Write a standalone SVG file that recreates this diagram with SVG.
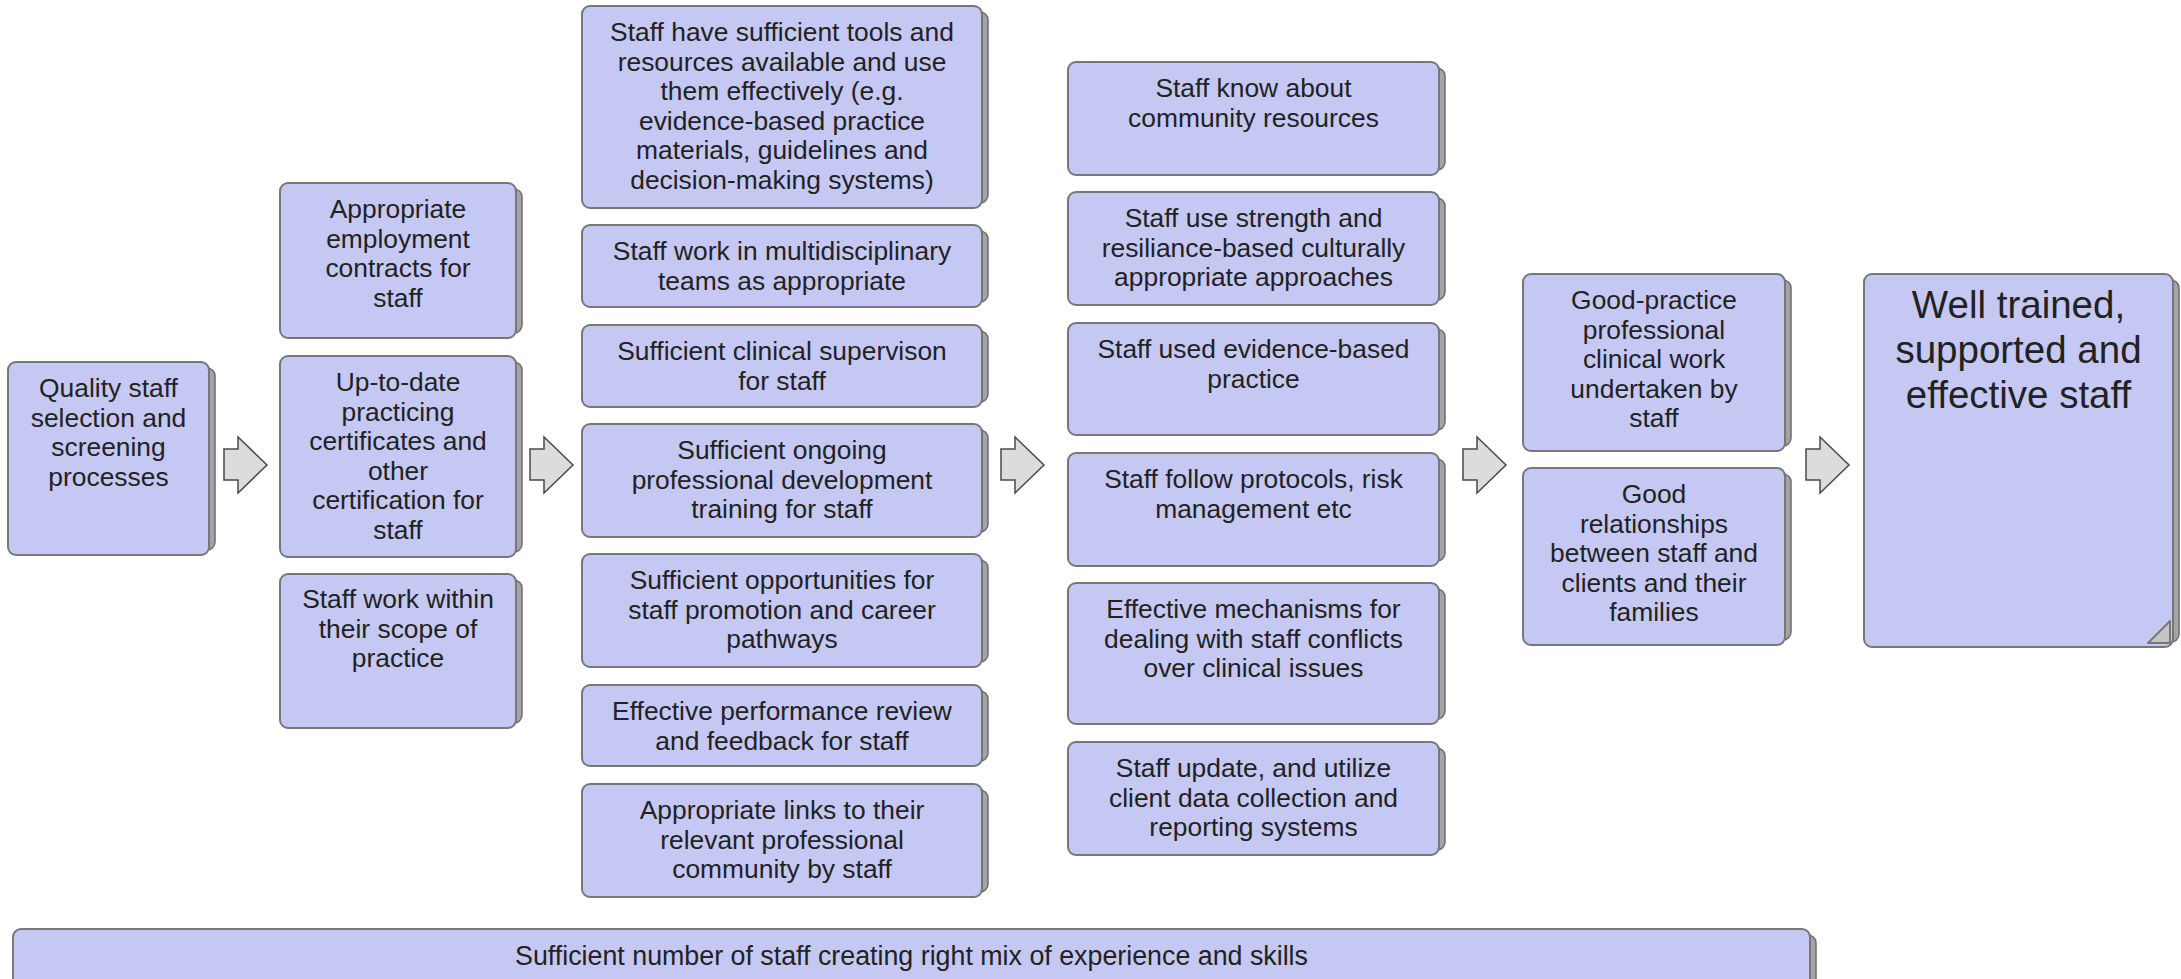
<svg xmlns="http://www.w3.org/2000/svg" xmlns:xlink="http://www.w3.org/1999/xlink" width="2181" height="979" viewBox="0 0 2181 979">
<style>
.bx{fill:#c5c8f3;stroke:#777;stroke-width:2}
.sh{fill:#a3a3a8;stroke:#6e6e6e;stroke-width:1.5}
.t{font-family:"Liberation Sans",Arial,sans-serif;font-size:26.4px;fill:#222;text-anchor:middle}
.tb{font-family:"Liberation Sans",Arial,sans-serif;font-size:38.5px;fill:#222;text-anchor:middle}
.ar{fill:#dcdcdc;stroke:#4a4a4a;stroke-width:1.5}
</style>
<defs>
<path id="arrow" d="M0,12 L14,12 L14,0 L43,28 L14,56 L14,43 L0,43 Z"/>
</defs>
<rect width="2181" height="979" fill="#fff"/>

<g id="n1"><rect class="sh" x="14" y="368" width="201" height="182" rx="8"/><rect class="bx" x="8" y="362" width="201" height="193" rx="8"/>
<text class="t" x="108.5" y="397"><tspan x="108.5">Quality staff</tspan><tspan x="108.5" dy="29.5">selection and</tspan><tspan x="108.5" dy="29.5">screening</tspan><tspan x="108.5" dy="29.5">processes</tspan></text></g>

<g id="n2"><rect class="sh" x="286" y="189" width="236" height="144" rx="8"/><rect class="bx" x="280" y="183" width="236" height="155" rx="8"/>
<text class="t" x="398" y="218"><tspan x="398">Appropriate</tspan><tspan x="398" dy="29.5">employment</tspan><tspan x="398" dy="29.5">contracts for</tspan><tspan x="398" dy="29.5">staff</tspan></text></g>

<g id="n3"><rect class="sh" x="286" y="362" width="236" height="190" rx="8"/><rect class="bx" x="280" y="356" width="236" height="201" rx="8"/>
<text class="t" x="398" y="391"><tspan x="398">Up-to-date</tspan><tspan x="398" dy="29.5">practicing</tspan><tspan x="398" dy="29.5">certificates and</tspan><tspan x="398" dy="29.5">other</tspan><tspan x="398" dy="29.5">certification for</tspan><tspan x="398" dy="29.5">staff</tspan></text></g>

<g id="n4"><rect class="sh" x="286" y="580" width="236" height="143" rx="8"/><rect class="bx" x="280" y="574" width="236" height="154" rx="8"/>
<text class="t" x="398" y="608"><tspan x="398">Staff work within</tspan><tspan x="398" dy="29.5">their scope of</tspan><tspan x="398" dy="29.5">practice</tspan></text></g>

<g id="n5"><rect class="sh" x="588" y="12" width="400" height="191" rx="8"/><rect class="bx" x="582" y="6" width="400" height="202" rx="8"/>
<text class="t" x="782" y="41"><tspan x="782">Staff have sufficient tools and</tspan><tspan x="782" dy="29.5">resources available and use</tspan><tspan x="782" dy="29.5">them effectively (e.g.</tspan><tspan x="782" dy="29.5">evidence-based practice</tspan><tspan x="782" dy="29.5">materials, guidelines and</tspan><tspan x="782" dy="29.5">decision-making systems)</tspan></text></g>

<g id="n6"><rect class="sh" x="588" y="231" width="400" height="71" rx="8"/><rect class="bx" x="582" y="225" width="400" height="82" rx="8"/>
<text class="t" x="782" y="260"><tspan x="782">Staff work in multidisciplinary</tspan><tspan x="782" dy="29.5">teams as appropriate</tspan></text></g>

<g id="n7"><rect class="sh" x="588" y="331" width="400" height="71" rx="8"/><rect class="bx" x="582" y="325" width="400" height="82" rx="8"/>
<text class="t" x="782" y="360"><tspan x="782">Sufficient clinical supervison</tspan><tspan x="782" dy="29.5">for staff</tspan></text></g>

<g id="n8"><rect class="sh" x="588" y="430" width="400" height="102" rx="8"/><rect class="bx" x="582" y="424" width="400" height="113" rx="8"/>
<text class="t" x="782" y="459"><tspan x="782">Sufficient ongoing</tspan><tspan x="782" dy="29.5">professional development</tspan><tspan x="782" dy="29.5">training for staff</tspan></text></g>

<g id="n9"><rect class="sh" x="588" y="560" width="400" height="102" rx="8"/><rect class="bx" x="582" y="554" width="400" height="113" rx="8"/>
<text class="t" x="782" y="589"><tspan x="782">Sufficient opportunities for</tspan><tspan x="782" dy="29.5">staff promotion and career</tspan><tspan x="782" dy="29.5">pathways</tspan></text></g>

<g id="n10"><rect class="sh" x="588" y="691" width="400" height="70" rx="8"/><rect class="bx" x="582" y="685" width="400" height="81" rx="8"/>
<text class="t" x="782" y="720"><tspan x="782">Effective performance review</tspan><tspan x="782" dy="29.5">and feedback for staff</tspan></text></g>

<g id="n11"><rect class="sh" x="588" y="790" width="400" height="102" rx="8"/><rect class="bx" x="582" y="784" width="400" height="113" rx="8"/>
<text class="t" x="782" y="819"><tspan x="782">Appropriate links to their</tspan><tspan x="782" dy="29.5">relevant professional</tspan><tspan x="782" dy="29.5">community by staff</tspan></text></g>

<g id="n12"><rect class="sh" x="1074" y="68" width="371" height="102" rx="8"/><rect class="bx" x="1068" y="62" width="371" height="113" rx="8"/>
<text class="t" x="1253.5" y="97"><tspan x="1253.5">Staff know about</tspan><tspan x="1253.5" dy="29.5">community resources</tspan></text></g>

<g id="n13"><rect class="sh" x="1074" y="198" width="371" height="102" rx="8"/><rect class="bx" x="1068" y="192" width="371" height="113" rx="8"/>
<text class="t" x="1253.5" y="227"><tspan x="1253.5">Staff use strength and</tspan><tspan x="1253.5" dy="29.5">resiliance-based culturally</tspan><tspan x="1253.5" dy="29.5">appropriate approaches</tspan></text></g>

<g id="n14"><rect class="sh" x="1074" y="329" width="371" height="101" rx="8"/><rect class="bx" x="1068" y="323" width="371" height="112" rx="8"/>
<text class="t" x="1253.5" y="358"><tspan x="1253.5">Staff used evidence-based</tspan><tspan x="1253.5" dy="29.5">practice</tspan></text></g>

<g id="n15"><rect class="sh" x="1074" y="459" width="371" height="102" rx="8"/><rect class="bx" x="1068" y="453" width="371" height="113" rx="8"/>
<text class="t" x="1253.5" y="488"><tspan x="1253.5">Staff follow protocols, risk</tspan><tspan x="1253.5" dy="29.5">management etc</tspan></text></g>

<g id="n16"><rect class="sh" x="1074" y="589" width="371" height="130" rx="8"/><rect class="bx" x="1068" y="583" width="371" height="141" rx="8"/>
<text class="t" x="1253.5" y="618"><tspan x="1253.5">Effective mechanisms for</tspan><tspan x="1253.5" dy="29.5">dealing with staff conflicts</tspan><tspan x="1253.5" dy="29.5">over clinical issues</tspan></text></g>

<g id="n17"><rect class="sh" x="1074" y="748" width="371" height="102" rx="8"/><rect class="bx" x="1068" y="742" width="371" height="113" rx="8"/>
<text class="t" x="1253.5" y="777"><tspan x="1253.5">Staff update, and utilize</tspan><tspan x="1253.5" dy="29.5">client data collection and</tspan><tspan x="1253.5" dy="29.5">reporting systems</tspan></text></g>

<g id="n18"><rect class="sh" x="1529" y="280" width="262" height="166" rx="8"/><rect class="bx" x="1523" y="274" width="262" height="177" rx="8"/>
<text class="t" x="1654" y="309"><tspan x="1654">Good-practice</tspan><tspan x="1654" dy="29.5">professional</tspan><tspan x="1654" dy="29.5">clinical work</tspan><tspan x="1654" dy="29.5">undertaken by</tspan><tspan x="1654" dy="29.5">staff</tspan></text></g>

<g id="n19"><rect class="sh" x="1529" y="474" width="262" height="166" rx="8"/><rect class="bx" x="1523" y="468" width="262" height="177" rx="8"/>
<text class="t" x="1654" y="503"><tspan x="1654">Good</tspan><tspan x="1654" dy="29.5">relationships</tspan><tspan x="1654" dy="29.5">between staff and</tspan><tspan x="1654" dy="29.5">clients and their</tspan><tspan x="1654" dy="29.5">families</tspan></text></g>

<g id="n20"><rect class="sh" x="1870" y="280" width="309" height="362" rx="8"/><rect class="bx" x="1864" y="274" width="309" height="373" rx="8"/>
<path d="M2148,643 L2170,621 L2170,643 Z" fill="#c4c4c4" stroke="#777" stroke-width="2" stroke-linejoin="round"/>
<text class="tb" x="2018.5" y="318"><tspan x="2018.5">Well trained,</tspan><tspan x="2018.5" dy="45">supported and</tspan><tspan x="2018.5" dy="45">effective staff</tspan></text></g>

<g id="n21"><rect class="sh" x="19" y="935" width="1797" height="60" rx="8"/><rect class="bx" x="13" y="929" width="1797" height="70" rx="8"/>
<text class="t" x="911.5" y="965" style="font-size:26.8px">Sufficient number of staff creating right mix of experience and skills</text></g>

<g id="connectors">
<use xlink:href="#arrow" href="#arrow" class="ar" x="224" y="437"/>
<use xlink:href="#arrow" href="#arrow" class="ar" x="530" y="437"/>
<use xlink:href="#arrow" href="#arrow" class="ar" x="1001" y="437"/>
<use xlink:href="#arrow" href="#arrow" class="ar" x="1463" y="437"/>
<use xlink:href="#arrow" href="#arrow" class="ar" x="1806" y="437"/>
</g>
</svg>
